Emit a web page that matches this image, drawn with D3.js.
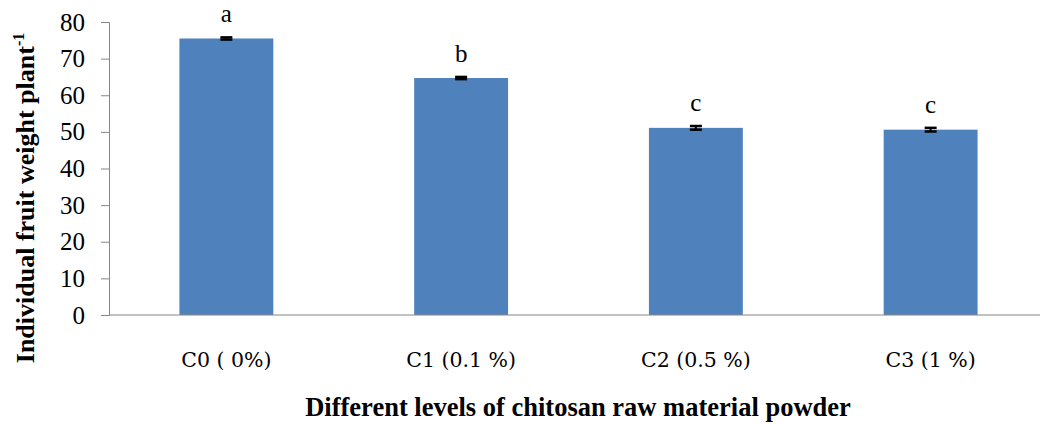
<!DOCTYPE html>
<html>
<head>
<meta charset="utf-8">
<script src="https://cdn.jsdelivr.net/npm/d3@7"></script>
<style>
body{margin:0;background:#fff;overflow:hidden;}
text{font-family:"Liberation Serif","Times New Roman",serif;}
</style>
</head>
<body>
<div id="chart"></div>
<script>
// data
var categories = ['C0 ( 0%)', 'C1 (0.1 %)', 'C2 (0.5 %)', 'C3 (1 %)'];
var fruitWeight = [75.5, 64.7, 51.1, 50.6];
var errors = [0.3, 0.3, 0.5, 0.5];
var letters = ['a', 'b', 'c', 'c'];
var yTicks = [0, 10, 20, 30, 40, 50, 60, 70, 80];

var W = 1040, H = 425;
var m = {left:109, top:22, bottom:110};

var svg = d3.select('#chart').append('svg').attr('width', W).attr('height', H);

// the category range runs a bit past the right edge, as in the original crop
var x = d3.scaleBand().domain(categories).range([m.left, 1048]).paddingInner(0.6).paddingOuter(0.3);
var y = d3.scaleLinear().domain([0, 80]).range([H - m.bottom, m.top]);

// bars
svg.selectAll('rect.bar').data(fruitWeight).enter().append('rect')
  .attr('class','bar')
  .attr('x', function(d,i){return x(categories[i]);})
  .attr('y', function(d){return y(d);})
  .attr('width', x.bandwidth())
  .attr('height', function(d){return y(0) - y(d);})
  .style('fill', '#4f81bd');

// error bars
var eb = svg.selectAll('g.err').data(fruitWeight).enter().append('g').attr('class','err');
eb.append('line')
  .attr('x1', function(d,i){return x(categories[i]) + x.bandwidth()/2;})
  .attr('x2', function(d,i){return x(categories[i]) + x.bandwidth()/2;})
  .attr('y1', function(d,i){return y(d - errors[i]);})
  .attr('y2', function(d,i){return y(d + errors[i]);})
  .style('stroke','#000').style('stroke-width',2);
[-1, 1].forEach(function(s){
  eb.append('line')
    .attr('x1', function(d,i){return x(categories[i]) + x.bandwidth()/2 - 6;})
    .attr('x2', function(d,i){return x(categories[i]) + x.bandwidth()/2 + 6;})
    .attr('y1', function(d,i){return y(d + s*errors[i]);})
    .attr('y2', function(d,i){return y(d + s*errors[i]);})
    .style('stroke','#000').style('stroke-width',2.5);
});

// significance letters
svg.selectAll('text.letter').data(fruitWeight).enter().append('text')
  .attr('class','letter')
  .attr('x', function(d,i){return x(categories[i]) + x.bandwidth()/2;})
  .attr('y', function(d,i){return y(d + errors[i]) - 15;})
  .attr('text-anchor','middle')
  .style('font-size','25px')
  .text(function(d,i){return letters[i];});

// y axis
var yAxis = d3.axisLeft(y).tickValues(yTicks).tickSize(8).tickPadding(16);
var gy = svg.append('g').attr('transform','translate(' + m.left + ',0)').call(yAxis);
gy.attr('font-family', null).attr('font-size', null);
gy.selectAll('path,line').style('stroke','#868686');
gy.selectAll('text').style('font-size','25px').style('fill','#000')
  .style('font-family','"Liberation Serif", serif');

// x axis line
svg.append('line')
  .attr('x1', m.left).attr('x2', W)
  .attr('y1', y(0)).attr('y2', y(0))
  .style('stroke','#868686');

// category labels
svg.selectAll('text.cat').data(categories).enter().append('text')
  .attr('class','cat')
  .attr('x', function(d){return x(d) + x.bandwidth()/2;})
  .attr('y', 367)
  .attr('text-anchor','middle')
  .style('font-size','20.5px')
  .style('font-family','"DejaVu Serif",serif')
  .text(function(d){return d;});

// axis titles
svg.append('text')
  .attr('x', 578).attr('y', 416)
  .attr('text-anchor','middle')
  .style('font-size','26.5px').style('font-weight','bold')
  .text('Different levels of chitosan raw material powder');

var yt = svg.append('text')
  .attr('transform','translate(34,198) rotate(-90)')
  .attr('text-anchor','middle')
  .style('font-size','26px').style('font-weight','bold');
yt.append('tspan').text('Individual fruit weight plant');
yt.append('tspan').attr('dy',-10).style('font-size','16px').text('-1');
</script>
</body>
</html>
